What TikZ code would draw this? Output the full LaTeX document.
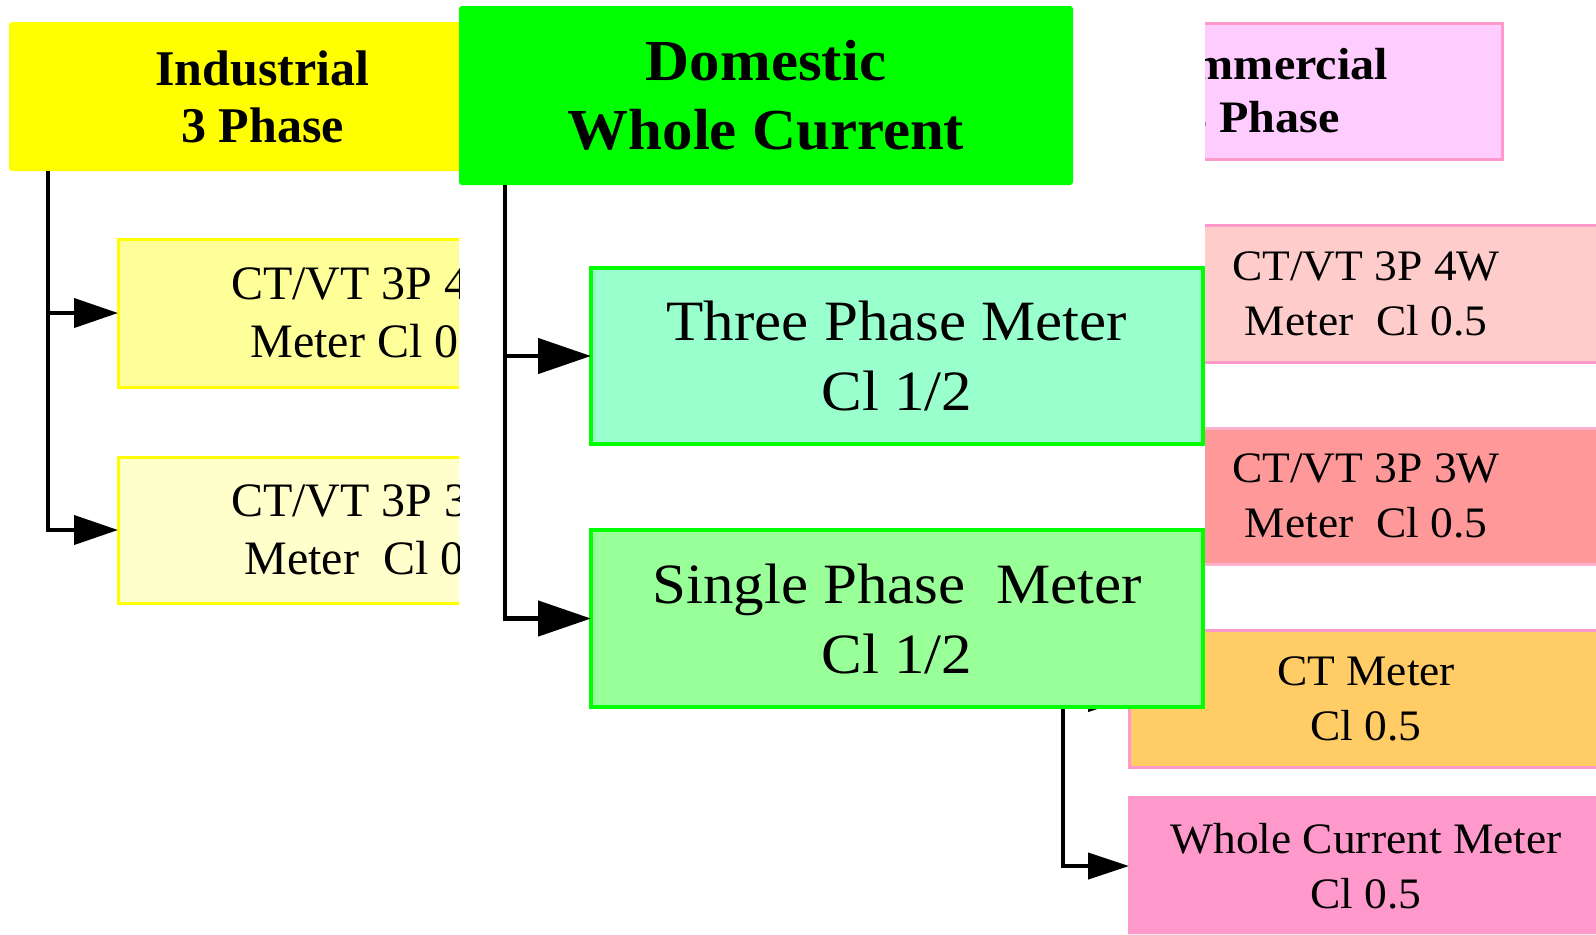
\documentclass[tikz,border=0pt]{standalone}
\usepackage{fontspec}
\setmainfont{Liberation Serif}
\newfontfamily\indf{Liberation Serif}
\newfontfamily\domf{Liberation Serif}[FakeStretch=1.05]
\newfontfamily\domfr{Liberation Serif}[FakeStretch=1.07]
\newfontfamily\comf{Liberation Serif}[FakeStretch=1.07]
\newfontfamily\comfr{Liberation Serif}[FakeStretch=1.045]
\usetikzlibrary{arrows.meta}
\definecolor{ylw}{HTML}{FFFF00}
\definecolor{ylwA}{HTML}{FFFF99}
\definecolor{ylwB}{HTML}{FFFFCC}
\definecolor{grn}{HTML}{00FF00}
\definecolor{grnA}{HTML}{99FFCC}
\definecolor{grnB}{HTML}{99FF99}
\definecolor{pnkmain}{HTML}{FFCCFF}
\definecolor{pnkline}{HTML}{FF99CC}
\definecolor{pnkA}{HTML}{FFCCCC}
\definecolor{pnkB}{HTML}{FF9999}
\definecolor{pnkBline}{HTML}{FFB0CC}
\definecolor{orng}{HTML}{FFCC66}
\definecolor{pnkC}{HTML}{FF99CC}
\begin{document}
\begin{tikzpicture}[x=0.5pt,y=-0.5pt,
  box/.style={rectangle, inner sep=0pt, outer sep=0pt, align=center, text=black},
  indmain/.style={box, fill=ylw, rounded corners=1.5pt,
    minimum width=253.5pt, minimum height=74.5pt,
    font=\indf\bfseries\fontsize{25}{28.5}\selectfont},
  indsub/.style={box, draw=ylw, line width=1.5pt, minimum width=254.5pt,
    font=\indf\fontsize{24}{29}\selectfont},
  dommain/.style={box, fill=grn, rounded corners=1.5pt,
    minimum width=307pt, minimum height=89.5pt,
    font=\domf\bfseries\fontsize{29}{34.5}\selectfont},
  domsub/.style={box, draw=grn, line width=2pt, minimum width=306pt,
    font=\domfr\fontsize{28.5}{35}\selectfont},
  commain/.style={box, fill=pnkmain, draw=pnkline, line width=1.5pt,
    minimum width=240.5pt, minimum height=68pt,
    font=\comf\bfseries\fontsize{22.5}{26.5}\selectfont},
  comsub/.style={box, line width=1.5pt, minimum width=237pt,
    font=\comfr\fontsize{21.75}{27.5}\selectfont},
  arrI/.style={line width=2pt, -{Triangle[length=22pt,width=14.5pt]}},
  arrD/.style={line width=2.3pt, -{Triangle[length=26.5pt,width=17.5pt]}},
  arrC/.style={line width=2pt, -{Triangle[length=20.5pt,width=13pt]}}
]
\useasboundingbox[fill=white] (0,0) rectangle (1596,934);

% ---------- Commercial (partly hidden) ----------
\begin{scope}
\clip (1205,0) -- (1596,0) -- (1596,934) -- (459,934) -- (459,708) -- (1205,708) -- cycle;
\node[commain] (com) at (1261.5,91) {Commercial\\3 Phase};
\node[comsub, fill=pnkA, draw=pnkline, minimum height=68.5pt] (c4) at (1366,293.5) {CT/VT 3P 4W\\Meter\ \ Cl 0.5};
\node[comsub, fill=pnkB, draw=pnkBline, minimum height=68pt] (c3) at (1366,496) {CT/VT 3P 3W\\Meter\ \ Cl 0.5};
\node[comsub, fill=orng, draw=pnkline, minimum height=68.5pt] (cct) at (1366,698.5) {CT Meter\\Cl 0.5};
\node[comsub, fill=pnkC, draw=pnkC, minimum height=69pt] (cwc) at (1366,866) {Whole Current Meter\\Cl 0.5};
\draw[arrC] ([xshift=21pt]com.south west) |- (c4.west);
\draw[arrC] ([xshift=21pt]com.south west) |- (c3.west);
\draw[arrC] ([xshift=21pt]com.south west) |- (cct.west);
\draw[arrC] ([xshift=21pt]com.south west) |- (cwc.west);
\end{scope}

% ---------- Industrial (partly hidden) ----------
\begin{scope}
\clip (0,0) rectangle (459,934);
\node[indmain] (ind) at (262.5,96.5) {Industrial\\3 Phase};
\node[indsub, fill=ylwA, minimum height=74pt] (ind4) at (372.5,313) {CT/VT 3P 4W\\Meter Cl 0.5};
\node[indsub, fill=ylwB, minimum height=73pt] (ind3) at (372.5,530) {CT/VT 3P 3W\\Meter\ \ Cl 0.5};
\draw[arrI] ([xshift=19.25pt]ind.south west) |- (ind4.west);
\draw[arrI] ([xshift=19.25pt]ind.south west) |- (ind3.west);
\end{scope}

% ---------- Domestic ----------
\node[dommain] (dom) at (766,95.5) {Domestic\\Whole Current};
\node[domsub, fill=grnA, minimum height=88pt] (d3) at (897,356) {Three Phase Meter\\Cl 1/2};
\node[domsub, fill=grnB, minimum height=88.5pt] (d1) at (897,618.5) {Single Phase\ \ Meter\\Cl 1/2};
\draw[arrD] ([xshift=23pt]dom.south west) |- (d3.west);
\draw[arrD] ([xshift=23pt]dom.south west) |- (d1.west);
\end{tikzpicture}
\end{document}
